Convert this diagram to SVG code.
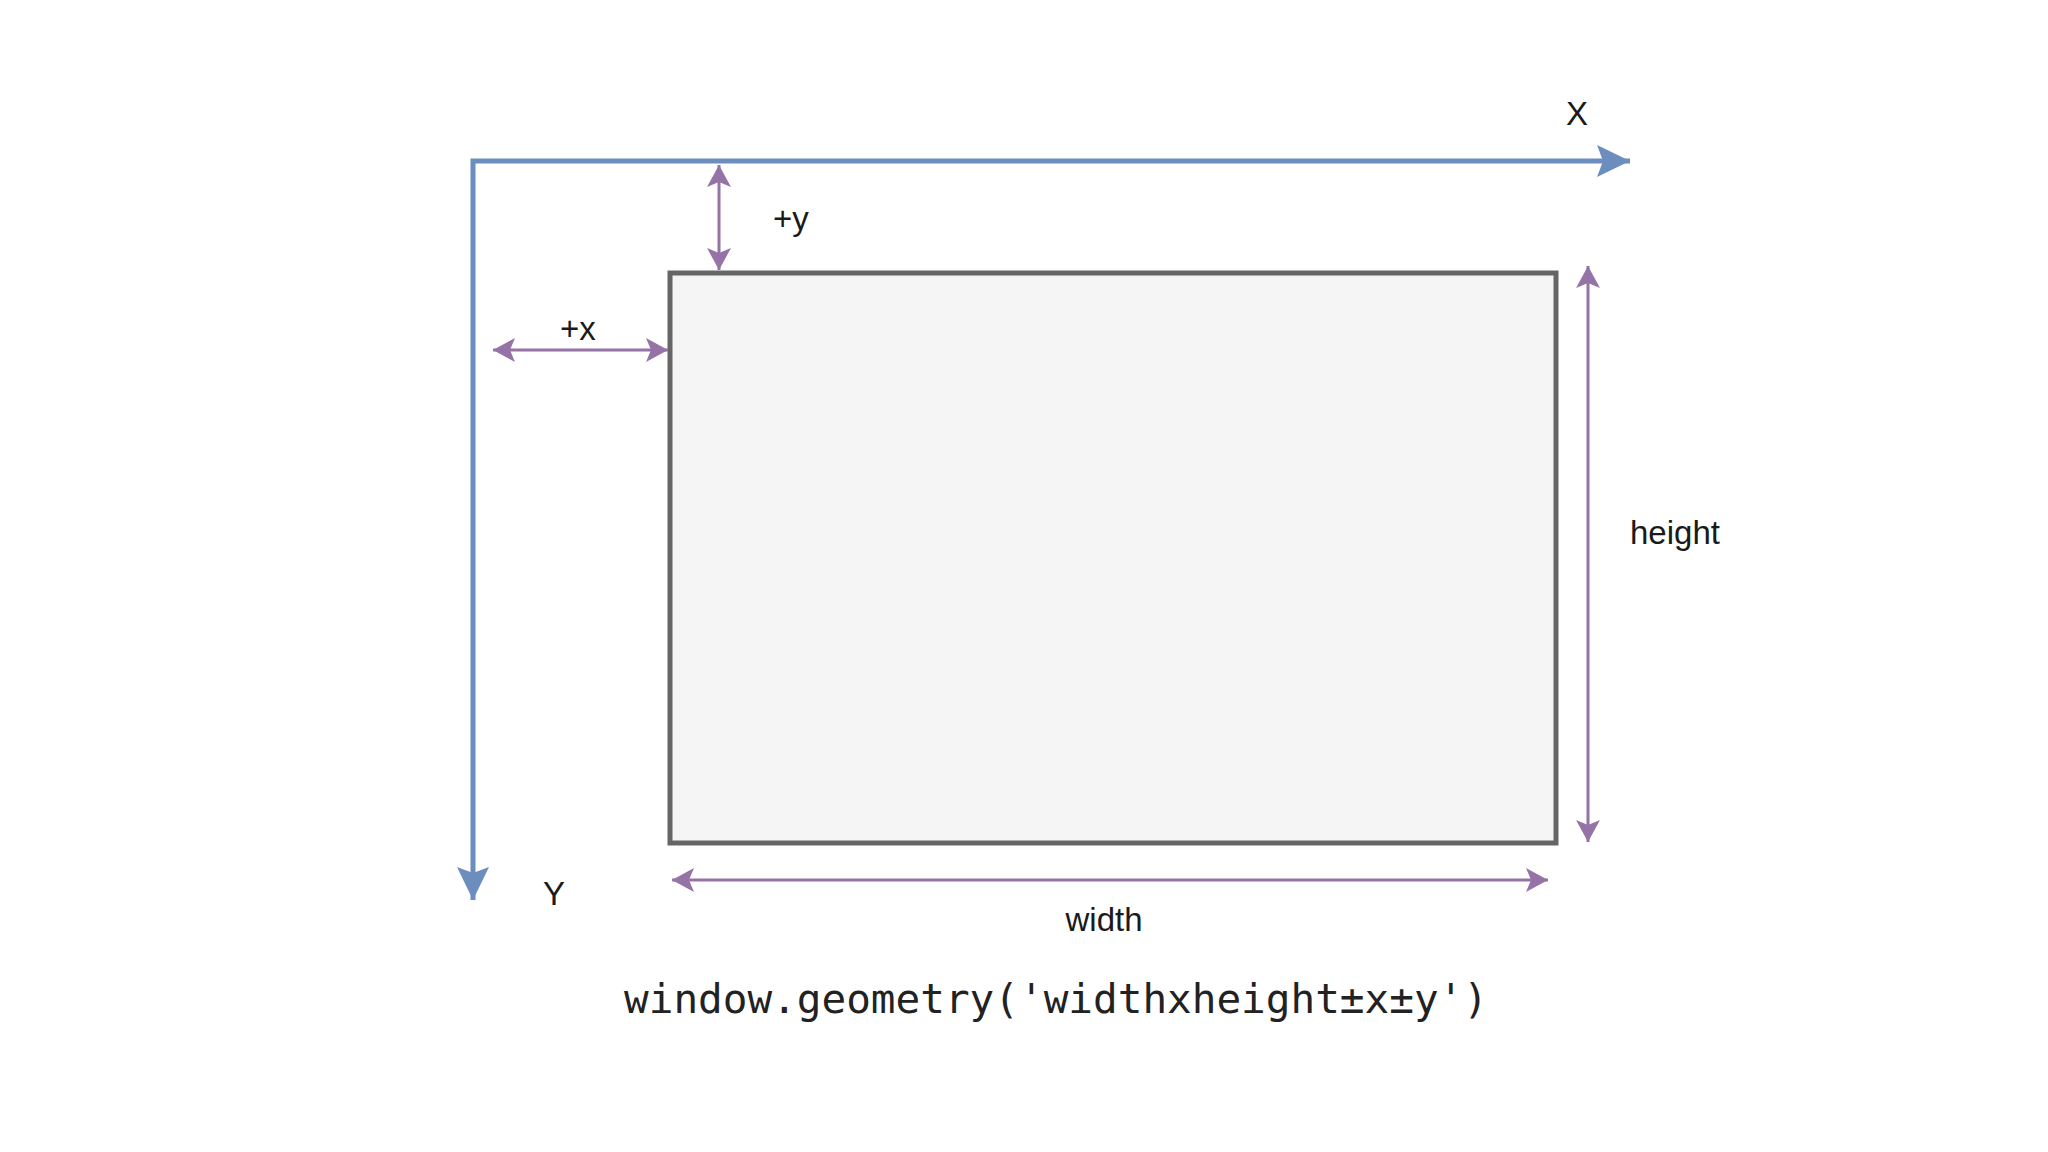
<svg xmlns="http://www.w3.org/2000/svg" width="2048" height="1152" viewBox="0 0 2048 1152">
  <style>
    .lbl { font-family: "Liberation Sans", Arial, sans-serif; font-size: 33px; fill: #1a1a1a; }
    .code { font-family: "DejaVu Sans Mono", "Liberation Mono", monospace; font-size: 41px; fill: #222222; }
    .axis { fill: none; stroke: #6c8ebf; stroke-width: 5; stroke-linejoin: miter; }
    .dim { fill: none; stroke: #9673a6; stroke-width: 3; }
  </style>
  <defs>
    <marker id="blueHead" markerUnits="userSpaceOnUse" viewBox="0 -17 35 34" refX="33" refY="0" markerWidth="35" markerHeight="34" orient="auto-start-reverse">
      <path d="M0,-16 L33,0 L0,16 L6,0 Z" fill="#6c8ebf"/>
    </marker>
    <marker id="purpleHead" markerUnits="userSpaceOnUse" viewBox="0 -13 23 26" refX="22" refY="0" markerWidth="23" markerHeight="26" orient="auto-start-reverse">
      <path d="M0,-12 L22,0 L0,12 L5,0 Z" fill="#9673a6"/>
    </marker>
  </defs>
  <rect width="2048" height="1152" fill="#ffffff"/>

  <g id="window">
    <rect x="670" y="273" width="886" height="570" fill="#f5f5f5" stroke="#666666" stroke-width="5"/>
  </g>

  <g id="connectors">
    <path id="axes" class="axis" d="M1630,161 L473,161 L473,900" marker-start="url(#blueHead)" marker-end="url(#blueHead)"/>
    <path id="dim-y" class="dim" d="M719,165 L719,270" marker-start="url(#purpleHead)" marker-end="url(#purpleHead)"/>
    <path id="dim-x" class="dim" d="M493,350 L668,350" marker-start="url(#purpleHead)" marker-end="url(#purpleHead)"/>
    <path id="dim-height" class="dim" d="M1588,266 L1588,842" marker-start="url(#purpleHead)" marker-end="url(#purpleHead)"/>
    <path id="dim-width" class="dim" d="M672,880 L1548,880" marker-start="url(#purpleHead)" marker-end="url(#purpleHead)"/>
  </g>

  <g id="labels">
    <text id="label-X" class="lbl" x="1577" y="125" text-anchor="middle">X</text>
    <text id="label-Y" class="lbl" x="554" y="905" text-anchor="middle">Y</text>
    <text id="label-plus-y" class="lbl" x="773" y="230">+y</text>
    <text id="label-plus-x" class="lbl" x="560" y="340">+x</text>
    <text id="label-height" class="lbl" x="1630" y="544">height</text>
    <text id="label-width" class="lbl" x="1104" y="931" text-anchor="middle">width</text>
    <text id="label-code" class="code" x="1056" y="1013" text-anchor="middle">window.geometry('widthxheight±x±y')</text>
  </g>
</svg>
